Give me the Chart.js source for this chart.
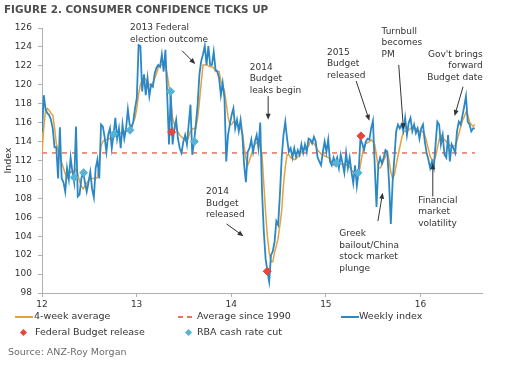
<!DOCTYPE html>
<html>
<head>
<meta charset="utf-8">
<script src="https://cdn.jsdelivr.net/npm/chart.js@4"></script>
<style>
  body { margin: 0; background: #fff; font-family: "DejaVu Sans", sans-serif; }
  #wrap { position: relative; width: 529px; height: 370px; }
  #chart { position: absolute; left: 0; top: 0; }
  .txt { position: absolute; white-space: nowrap; color: #333; }
  #title { left: 4px; top: 3px; font-size: 10.4px; font-weight: bold; color: #4d4d4d; }
  .leg { font-size: 9.5px; }
  .src { font-size: 9.5px; color: #6b6b6b; }
  .sw { position: absolute; }
</style>
</head>
<body>
<div id="wrap">
  <canvas id="chart" width="529" height="370"></canvas>
  <div id="title" class="txt">FIGURE 2. CONSUMER CONFIDENCE TICKS UP</div>

  <div class="sw" style="left:15px;top:316px;width:18px;height:2px;background:#e9a03b"></div>
  <div class="txt leg" style="left:34px;top:310px">4-week average</div>
  <div class="sw" style="left:178px;top:316px;width:5px;height:2px;background:#e8735a"></div>
  <div class="sw" style="left:187px;top:316px;width:5px;height:2px;background:#e8735a"></div>
  <div class="txt leg" style="left:197px;top:310px">Average since 1990</div>
  <div class="sw" style="left:341px;top:316px;width:18px;height:2px;background:#2b88c4"></div>
  <div class="txt leg" style="left:359px;top:310px">Weekly index</div>

  <div class="sw" style="left:21px;top:330px;width:5px;height:5px;background:#e8453c;transform:rotate(45deg)"></div>
  <div class="txt leg" style="left:35px;top:326px">Federal Budget release</div>
  <div class="sw" style="left:186px;top:330px;width:5px;height:5px;background:#55b4d8;transform:rotate(45deg)"></div>
  <div class="txt leg" style="left:197px;top:326px">RBA cash rate cut</div>

  <div class="txt src" style="left:8px;top:346px">Source: ANZ-Roy Morgan</div>
</div>
<script>
// weekly ANZ-Roy Morgan index, Jan 2012 - Aug 2016
const weekly = [
  115.0, 118.9, 117.4, 117.0, 116.8, 116.3, 115.4, 113.4, 113.4, 110.1,
  115.5, 110.1, 109.7, 108.7, 111.2, 110.0, 112.3, 110.8, 109.7, 115.6,
  108.2, 108.4, 110.1, 110.8, 109.7, 108.7, 109.7, 110.8, 109.0, 108.1,
  111.2, 112.1, 110.1, 115.8, 115.6, 114.5, 112.9, 114.7, 115.4, 113.3,
  114.7, 116.5, 114.3, 115.4, 113.3, 115.8, 114.3, 115.4, 117.4, 115.8,
  115.4, 116.1, 117.5, 118.6, 124.2, 124.1, 119.3, 121.1, 118.9, 120.7,
  118.8, 120.0, 119.8, 121.2, 121.8, 122.1, 121.9, 123.2, 121.4, 123.7,
  118.9, 113.7, 119.3, 113.7, 115.4, 116.3, 114.3, 113.3, 112.8, 114.0,
  114.7, 113.7, 115.8, 117.9, 112.6, 114.0, 115.8, 117.9, 121.1, 122.5,
  123.2, 124.1, 122.1, 124.1, 122.1, 122.1, 123.5, 121.6, 121.4, 120.7,
  118.9, 120.2, 118.6, 111.9, 114.7, 115.8, 116.8, 117.5, 115.4, 116.3,
  115.1, 116.3, 114.7, 111.5, 109.7, 112.9, 113.3, 114.2, 112.9, 114.0,
  114.7, 113.3, 116.0, 108.7, 104.5, 101.6, 100.3, 99.2, 102.0, 102.4,
  103.4, 105.6, 105.2, 108.4, 112.3, 114.7, 116.1, 114.3, 112.9, 113.3,
  112.3, 113.3, 112.4, 113.1, 112.6, 113.7, 112.8, 113.7, 112.9, 114.3,
  114.2, 113.8, 114.5, 114.0, 112.4, 111.9, 111.5, 112.9, 114.0, 112.9,
  114.2, 111.9, 111.5, 112.3, 111.7, 112.3, 111.2, 112.6, 111.7, 110.7,
  112.8, 111.2, 112.3, 110.8, 109.6, 111.5, 109.3, 110.8, 114.3, 113.8,
  113.1, 114.0, 114.3, 114.2, 115.4, 116.2, 111.5, 107.1, 111.5, 112.3,
  111.7, 112.3, 113.1, 112.9, 109.7, 105.3, 109.7, 112.3, 115.1, 115.8,
  115.4, 115.8, 115.1, 116.5, 114.7, 116.0, 116.5, 115.1, 115.8, 114.9,
  115.4, 114.3, 115.4, 115.8, 114.0, 112.8, 112.1, 111.2, 111.9, 111.2,
  113.7, 116.1, 115.8, 113.7, 114.7, 112.6, 112.3, 114.7, 111.9, 113.7,
  113.3, 112.8, 115.1, 116.1, 115.8, 116.7, 117.7, 118.8, 116.1, 115.8,
  115.1, 115.4, 115.4
];

const avg4 = [
  112.8, 115.5, 117.3, 117.5, 117.3, 117.0, 116.8, 115.5, 113.8, 113.0,
  112.3, 111.8, 111.2, 110.6, 110.1, 110.5, 110.8, 110.8, 110.9, 111.1,
  110.6, 109.8, 109.3, 109.0, 109.3, 109.6, 109.9, 110.1, 110.1, 110.1,
  110.1, 110.2, 111.5, 113.5, 114.0, 114.2, 114.2, 114.3, 114.3, 114.4,
  114.5, 114.6, 114.7, 114.9, 114.9, 115.0, 115.1, 115.1, 115.1, 115.2,
  115.6, 116.0, 116.5, 117.5, 119.0, 120.0, 120.5, 120.7, 120.6, 120.0,
  120.0, 120.0, 120.2, 120.7, 121.2, 121.8, 122.0, 122.1, 122.1, 122.1,
  121.1, 119.8, 118.2, 116.5, 115.8, 115.3, 115.0, 114.7, 114.5, 114.3,
  114.1, 114.0, 114.5, 115.1, 115.3, 115.4, 115.4, 116.5, 118.2, 120.2,
  122.1, 122.1, 122.1, 122.0, 121.9, 121.9, 121.8, 121.4, 121.4, 121.4,
  120.4, 119.9, 119.3, 118.0, 116.6, 115.8, 115.8, 116.1, 116.1, 115.8,
  115.6, 115.4, 115.0, 113.5, 112.2, 111.5, 112.0, 112.6, 113.2, 113.7,
  113.9, 114.0, 113.4, 112.6, 109.5, 106.5, 104.0, 102.3, 101.3, 101.3,
  102.3, 103.0, 103.8, 105.2, 106.7, 109.5, 111.3, 112.6, 112.6, 112.3,
  112.2, 112.1, 112.2, 112.4, 112.6, 112.9, 113.1, 113.3, 113.4, 113.5,
  114.0, 114.0, 113.8, 113.5, 113.1, 112.9, 112.7, 112.6, 112.5, 112.4,
  112.3, 112.2, 111.8, 111.5, 111.6, 111.8, 111.7, 111.6, 111.6, 111.6,
  111.5, 111.5, 111.3, 111.0, 110.8, 110.6, 110.4, 110.5, 111.5, 112.6,
  113.5, 113.8, 113.9, 114.0, 114.2, 114.0, 113.7, 112.5, 111.2, 111.2,
  111.5, 112.0, 112.4, 112.9, 112.0, 110.8, 110.1, 110.5, 111.5, 112.5,
  113.4, 114.3, 115.0, 115.1, 115.1, 115.2, 115.4, 115.4, 115.4, 115.4,
  115.2, 115.1, 115.1, 115.0, 114.7, 114.0, 113.2, 112.4, 112.1, 111.9,
  112.4, 113.3, 114.2, 114.7, 114.4, 114.2, 114.0, 113.8, 113.6, 113.5,
  113.5, 113.6, 114.1, 114.8, 115.5, 116.2, 116.6, 117.1, 116.8, 116.1,
  115.8, 115.6, 115.8
];

const longRunAverage = 112.8;

// event markers: [year fraction, index]
const budgetDates = [13.37, 14.38, 15.37];
const budgetValues = [115.0, 100.3, 114.6];
const rbaDates = [12.34, 12.44, 12.76, 12.93, 13.36, 13.61, 15.11, 15.34];
const rbaValues = [110.2, 110.7, 114.8, 115.2, 119.3, 114.0, 111.7, 110.7];

const yearTicks = [12, 13, 14, 15, 16];
const firstWeek = 12.0;
const lastWeek = 16.575;

const weekStep = (lastWeek - firstWeek) / (weekly.length - 1);
const weekX = weekly.map((v, i) => firstWeek + i * weekStep);

// annotation notes: text lines, anchor in data units, arrow from -> to
const notes = [
  { lines: ["2013 Federal", "election outcome"], x: 12.93, y: 126.0, align: "left",
    arrow: [13.48, 123.6, 13.62, 122.2] },
  { lines: ["2014", "Budget", "leaks begin"], x: 14.195, y: 121.85, align: "left",
    arrow: [14.39, 118.8, 14.39, 116.3] },
  { lines: ["2014", "Budget", "released"], x: 13.734, y: 108.7, align: "left",
    arrow: [13.95, 105.3, 14.13, 104.0] },
  { lines: ["2015", "Budget", "released"], x: 15.011, y: 123.4, align: "left",
    arrow: [15.32, 120.4, 15.46, 116.2] },
  { lines: ["Turnbull", "becomes", "PM"], x: 15.588, y: 125.65, align: "left",
    arrow: [15.77, 122.1, 15.82, 115.3] },
  { lines: ["Gov't brings", "forward", "Budget date"], x: 16.658, y: 123.2, align: "right",
    arrow: [16.45, 119.8, 16.36, 116.7] },
  { lines: ["Greek", "bailout/China", "stock market", "plunge"], x: 15.141, y: 104.26, align: "left",
    arrow: [15.55, 105.6, 15.6, 108.6] },
  { lines: ["Financial", "market", "volatility"], x: 15.975, y: 107.8, align: "left",
    arrow: [16.13, 108.2, 16.13, 111.7] }
];

const notesPlugin = {
  id: "notes",
  afterDatasetsDraw(chart){
    const ctx = chart.ctx;
    const xs = chart.scales.x;
    const ys = chart.scales.y;
    ctx.save();
    ctx.font = "9px 'DejaVu Sans'";
    ctx.fillStyle = "#333";
    ctx.strokeStyle = "#333";
    ctx.lineWidth = 1;
    ctx.textBaseline = "middle";
    notes.forEach(n => {
      const px = xs.getPixelForValue(n.x);
      const py = ys.getPixelForValue(n.y);
      ctx.textAlign = n.align;
      n.lines.forEach((t, i) => ctx.fillText(t, px, py + i * 11.5));
      const x1 = xs.getPixelForValue(n.arrow[0]);
      const y1 = ys.getPixelForValue(n.arrow[1]);
      const x2 = xs.getPixelForValue(n.arrow[2]);
      const y2 = ys.getPixelForValue(n.arrow[3]);
      const a = Math.atan2(y2 - y1, x2 - x1);
      ctx.beginPath();
      ctx.moveTo(x1, y1);
      ctx.lineTo(x2 - 3 * Math.cos(a), y2 - 3 * Math.sin(a));
      ctx.stroke();
      ctx.beginPath();
      ctx.moveTo(x2, y2);
      ctx.lineTo(x2 - 6 * Math.cos(a) + 2.5 * Math.sin(a), y2 - 6 * Math.sin(a) - 2.5 * Math.cos(a));
      ctx.lineTo(x2 - 6 * Math.cos(a) - 2.5 * Math.sin(a), y2 - 6 * Math.sin(a) + 2.5 * Math.cos(a));
      ctx.closePath();
      ctx.fill();
    });
    ctx.restore();
  }
};

const toPoints = (xs, ys) => xs.map((x, i) => ({ x: x, y: ys[i] }));

new Chart(document.getElementById("chart"), {
  type: "line",
  data: {
    datasets: [
      {
        label: "Federal Budget release",
        type: "scatter",
        data: toPoints(budgetDates, budgetValues),
        pointStyle: "rectRot",
        pointRadius: 4,
        backgroundColor: "#e8453c",
        borderColor: "#e8453c",
        order: 0
      },
      {
        label: "RBA cash rate cut",
        type: "scatter",
        data: toPoints(rbaDates, rbaValues),
        pointStyle: "rectRot",
        pointRadius: 4,
        backgroundColor: "#55b4d8",
        borderColor: "#55b4d8",
        order: 0
      },
      {
        label: "Weekly index",
        data: toPoints(weekX, weekly),
        borderColor: "#2b88c4",
        borderWidth: 1.8,
        pointRadius: 0,
        tension: 0,
        order: 1
      },
      {
        label: "4-week average",
        data: toPoints(weekX, avg4),
        borderColor: "#e9a03b",
        borderWidth: 1.5,
        pointRadius: 0,
        tension: 0,
        order: 2
      },
      {
        label: "Average since 1990",
        data: [{ x: firstWeek, y: longRunAverage }, { x: lastWeek, y: longRunAverage }],
        borderColor: "#e8735a",
        borderWidth: 1.5,
        borderDash: [5, 5],
        pointRadius: 0,
        order: 3
      }
    ]
  },
  options: {
    responsive: false,
    animation: false,
    layout: { padding: { top: 28, right: 47, bottom: 57, left: 3 } },
    plugins: {
      legend: { display: false },
      tooltip: { enabled: false }
    },
    scales: {
      x: {
        type: "linear",
        min: 12,
        max: 16.65,
        afterBuildTicks(scale){
          scale.ticks = yearTicks.map(v => ({ value: v }));
        },
        afterFit(scale){ scale.height = 20; },
        grid: { drawOnChartArea: false, drawTicks: true, tickLength: 4, color: "#b0b0b0" },
        border: { color: "#b0b0b0" },
        ticks: { font: { family: "DejaVu Sans", size: 9 }, color: "#333", padding: 2, maxRotation: 0 }
      },
      y: {
        min: 98,
        max: 126,
        afterFit(scale){ scale.width = 39; },
        grid: { drawOnChartArea: false, drawTicks: true, tickLength: 4, color: "#b0b0b0" },
        border: { color: "#b0b0b0" },
        ticks: { stepSize: 2, font: { family: "DejaVu Sans", size: 9 }, color: "#333", padding: 6 },
        title: { display: true, text: "Index", font: { family: "DejaVu Sans", size: 9.5 }, color: "#333", padding: 0 }
      }
    }
  },
  plugins: [notesPlugin]
});
</script>
</body>
</html>
